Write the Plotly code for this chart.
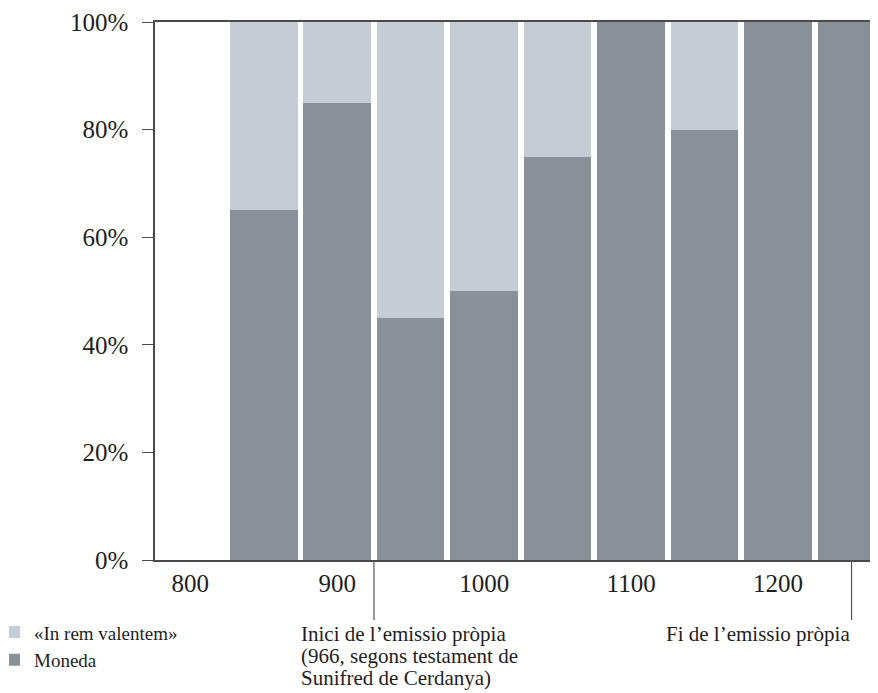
import plotly.graph_objects as go

years = [850, 900, 950, 1000, 1050, 1100, 1150, 1200, 1250]
moneda = [65, 85, 45, 50, 75, 100, 80, 100, 100]
in_rem = [35, 15, 55, 50, 25, 0, 20, 0, 0]
x_ticks = [800, 900, 1000, 1100, 1200]
y_ticks = [0, 20, 40, 60, 80, 100]
y_labels = ["0%", "20%", "40%", "60%", "80%", "100%"]
events_x = [925, 1250]
event1_lines = ["Inici de l’emissio pròpia", "(966, segons testament de", "Sunifred de Cerdanya)"]
event2_lines = ["Fi de l’emissio pròpia"]

LIGHT = "#c5ccd3"
DARK = "#899097"
AXIS = "#4a4a4a"
FONT = "Liberation Serif"
TXT = "#1e1e1e"

fig = go.Figure()
fig.add_trace(go.Bar(x=years, y=moneda, name="Moneda", marker=dict(color=DARK, line=dict(width=0))))
fig.add_trace(go.Bar(x=years, y=in_rem, name="«In rem valentem»", marker=dict(color=LIGHT, line=dict(width=0))))

xr = [776, 1268]
ML = 147
PLOT_W = 723
PLOT_H = 538  # plot area height in px (for converting offsets)

fig.update_layout(
    width=870, height=685,
    margin=dict(l=ML, r=0, t=14, b=133),
    barmode="stack", bargap=0.08,
    plot_bgcolor="white", paper_bgcolor="white",
    font=dict(family=FONT, color=TXT),
    showlegend=True,
    legend=dict(x=(1 - ML) / PLOT_W, y=-0.099, xanchor="left", yanchor="top",
                traceorder="reversed", font=dict(size=19, family=FONT, color=TXT),
                bgcolor="rgba(0,0,0,0)", tracegroupgap=0, itemwidth=30, indentation=-15),
    xaxis=dict(range=xr, tickvals=x_ticks, ticktext=[str(v) for v in x_ticks],
               showgrid=False, zeroline=False, showline=True, linecolor=AXIS, linewidth=1.5,
               mirror=True, ticks="", tickfont=dict(size=25, family=FONT, color=TXT)),
    yaxis=dict(range=[0, 100], tickvals=y_ticks, ticktext=y_labels,
               showgrid=False, zeroline=False, showline=True, linecolor=AXIS, linewidth=1.5,
               ticks="outside", ticklen=11, tickcolor=AXIS, tickwidth=1.2,
               ticklabelstandoff=9,
               tickfont=dict(size=25, family=FONT, color=TXT)),
)

def to_paper(v):
    return (v - xr[0]) / (xr[1] - xr[0])

def below(px):
    return -px / PLOT_H

# event markers below the axis
for ex in events_x:
    px = to_paper(ex)
    fig.add_shape(type="line", xref="paper", yref="paper", x0=px, x1=px, y0=0, y1=below(60),
                  line=dict(color="#555", width=1.2))

p1 = to_paper(events_x[0])
for k, line in enumerate(event1_lines):
    fig.add_annotation(xref="paper", yref="paper", x=p1, y=below(74 + 22 * k),
                       xanchor="left", yanchor="middle", xshift=-75,
                       text=line, showarrow=False, align="left",
                       font=dict(size=21, family=FONT, color=TXT))

p2 = to_paper(events_x[1])
for k, line in enumerate(event2_lines):
    fig.add_annotation(xref="paper", yref="paper", x=p2, y=below(74 + 22 * k),
                       xanchor="right", yanchor="middle", xshift=0,
                       text=line, showarrow=False, align="right",
                       font=dict(size=21, family=FONT, color=TXT))

fig.write_html("out.html")
